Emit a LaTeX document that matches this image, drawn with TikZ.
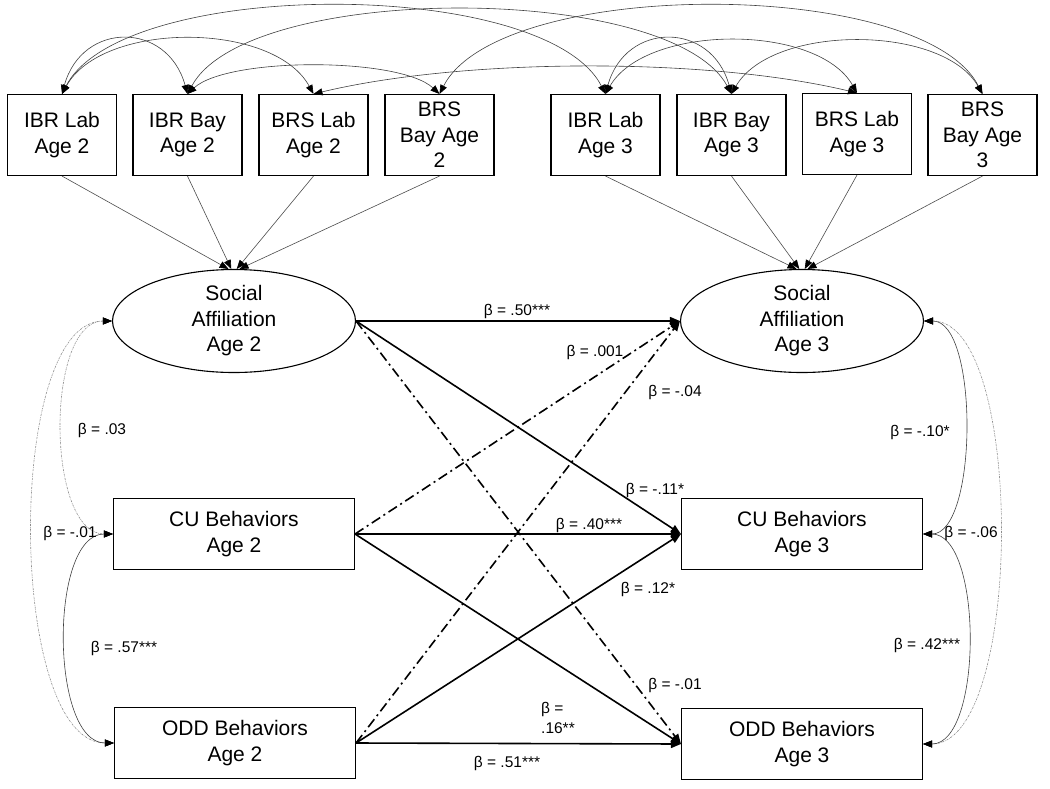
\documentclass[tikz,border=0pt]{standalone}
\usepackage{fontspec}
\setmainfont{Liberation Sans}
\usetikzlibrary{shapes.geometric, arrows.meta}
\tikzstyle{indicator} = [rectangle, minimum width=109pt, minimum height=81pt, inner sep=2pt, align=center, draw=black, line width=1.1pt, font=\fontsize{21}{25.5}\selectfont]
\tikzstyle{latent} = [ellipse, minimum width=243pt, minimum height=103pt, inner sep=0pt, align=center, draw=black, line width=1.1pt, font=\fontsize{21}{25.5}\selectfont]
\tikzstyle{observed} = [rectangle, minimum width=241pt, minimum height=71pt, align=center, draw=black, line width=1.1pt, font=\fontsize{21}{25.5}\selectfont]
\tikzstyle{beta} = [inner sep=1pt, align=left, font=\fontsize{15.5}{20}\selectfont]
\tikzstyle{loading} = [draw=black!70, line width=0.6pt, -{Triangle[length=9pt,width=7pt,color=black]}]
\tikzstyle{covar} = [draw=black!75, line width=0.6pt, {Triangle[length=9pt,width=7pt,color=black]}-{Triangle[length=9pt,width=7pt,color=black]}]
\tikzstyle{covdot} = [covar, draw=black!45, dash pattern=on 2pt off 1pt on 0.6pt off 1pt]
\tikzstyle{regline} = [line width=1.6pt, -{Triangle[length=10pt,width=8pt]}]
\tikzstyle{regdash} = [regline, dash pattern=on 10pt off 4pt on 2pt off 4pt]

\begin{document}
\begin{tikzpicture}[x=1pt, y=-1pt]

  \useasboundingbox (0,0) rectangle (1050,788);

  % Indicators Age 2
  \node (ibrlab2) at (62,135) [indicator] {IBR Lab\\Age 2};
  \node (ibrbay2) at (187.5,135) [indicator] {IBR Bay\\Age 2};
  \node (brslab2) at (313.5,135) [indicator] {BRS Lab\\Age 2};
  \node (brsbay2) at (439.5,135) [indicator] {BRS\\Bay Age\\2};

  % Indicators Age 3
  \node (ibrlab3) at (605.5,135) [indicator] {IBR Lab\\Age 3};
  \node (ibrbay3) at (731.5,135) [indicator] {IBR Bay\\Age 3};
  \node (brslab3) at (857,134) [indicator] {BRS Lab\\Age 3};
  \node (brsbay3) at (982.5,135) [indicator] {BRS\\Bay Age\\3};

  % Latent and observed variables
  \node (sa2) at (234,321) [latent] {Social\\Affiliation\\Age 2};
  \node (sa3) at (802,321) [latent] {Social\\Affiliation\\Age 3};
  \node (cu2) at (234,534) [observed] {CU Behaviors\\Age 2};
  \node (cu3) at (802,534) [observed] {CU Behaviors\\Age 3};
  \node (odd2) at (235,743) [observed] {ODD Behaviors\\Age 2};
  \node (odd3) at (802,744) [observed] {ODD Behaviors\\Age 3};

  % Loadings
  \draw[loading] (ibrlab2.south) -- (sa2.96);
  \draw[loading] (ibrbay2.south) -- (sa2.93);
  \draw[loading] (brslab2.south) -- (sa2.87);
  \draw[loading] (brsbay2.south) -- (sa2.84);
  \draw[loading] (ibrlab3.south) -- (sa3.96);
  \draw[loading] (ibrbay3.south) -- (sa3.93);
  \draw[loading] (brslab3.south) -- (sa3.87);
  \draw[loading] (brsbay3.south) -- (sa3.84);

  % Covariances among indicators
  \draw[covar] (ibrlab2.north) .. controls +(20,-73) and +(-20,-73) .. (ibrbay2.north);
  \draw[covar] (ibrlab2.north) .. controls +(40,-73) and +(-40,-73) .. (brslab2.north);
  \draw[covar] (ibrlab2.north) .. controls +(60,-117) and +(-60,-117) .. (ibrlab3.north);
  \draw[covar] (ibrbay2.north) .. controls +(40,-37) and +(-40,-37) .. (brsbay2.north);
  \draw[covar] (ibrbay2.north) .. controls +(60,-112) and +(-60,-112) .. (ibrbay3.north);
  \draw[covar] (brslab2.north) .. controls +(150,-36) and +(-150,-36) .. (brslab3.north);
  \draw[covar] (brsbay2.north) .. controls +(60,-117) and +(-60,-117) .. (brsbay3.north);
  \draw[covar] (ibrlab3.north) .. controls +(20,-73) and +(-20,-73) .. (ibrbay3.north);
  \draw[covar] (ibrlab3.north) .. controls +(40,-70) and +(-40,-70) .. (brslab3.north);
  \draw[covar] (ibrbay3.north) .. controls +(40,-70) and +(-40,-70) .. (brsbay3.north);

  % Cross-lagged paths
  \draw[regline] (sa2.east) -- (sa3.west);
  \draw[regline] (sa2.east) -- (cu3.west);
  \draw[regdash] (sa2.east) -- (odd3.west);
  \draw[regdash] (cu2.east) -- (sa3.west);
  \draw[regline] (cu2.east) -- (cu3.west);
  \draw[regline] (cu2.east) -- (odd3.west);
  \draw[regdash] (odd2.east) -- (sa3.west);
  \draw[regline] (odd2.east) -- (cu3.west);
  \draw[regline] (odd2.east) -- (odd3.west);

  % Covariances Age 2
  \draw[covdot] (sa2.west) .. controls +(-67,0) and +(-67,0) .. (cu2.west);
  \draw[covdot] (sa2.west) .. controls +(-107,0) and +(-107,0) .. (odd2.west);
  \draw[covar] (cu2.west) .. controls +(-64,0) and +(-64,0) .. (odd2.west);

  % Covariances Age 3
  \draw[covar] (sa3.east) .. controls +(55,0) and +(55,0) .. (cu3.east);
  \draw[covdot] (sa3.east) .. controls +(101,0) and +(101,0) .. (odd3.east);
  \draw[covar] (cu3.east) .. controls +(60,0) and +(60,0) .. (odd3.east);

  % Path labels
  \node (b50) at (517,311) [beta] {β = .50***};
  \node (b001) at (595,352) [beta] {β = .001};
  \node (b04) at (675,392) [beta] {β = -.04};
  \node (b11) at (655,490) [beta] {β = -.11*};
  \node (b40) at (589,525) [beta] {β = .40***};
  \node (b12) at (648,589) [beta] {β = .12*};
  \node (b01) at (675,685) [beta] {β = -.01};
  \node (b16) at (558,718) [beta] {β =\\.16**};
  \node (b51) at (507,763) [beta] {β = .51***};

  % Covariance labels
  \node (c03) at (102,430) [beta] {β = .03};
  \node (c01) at (70,533) [beta] {β = -.01};
  \node (c57) at (124,648) [beta] {β = .57***};
  \node (c10) at (920,432) [beta] {β = -.10*};
  \node (c06) at (971,533) [beta] {β = -.06};
  \node (c42) at (927,645) [beta] {β = .42***};

\end{tikzpicture}
\end{document}
